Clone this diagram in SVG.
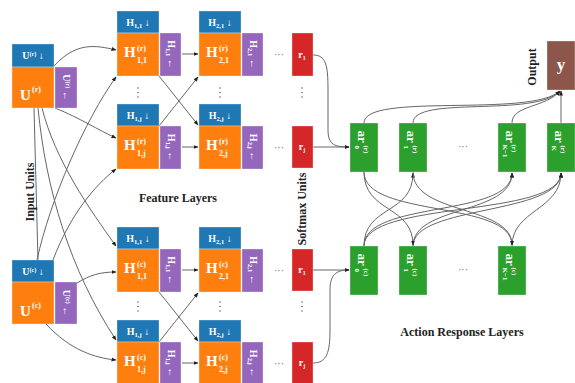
<svg xmlns="http://www.w3.org/2000/svg" width="575" height="383" viewBox="0 0 575 383">
<defs>
<style>
.blu{fill:#1f77b4}.org{fill:#ff7f0e}.pur{fill:#9467bd}.red{fill:#d62728}.grn{fill:#2ca02c}.brn{fill:#8c564b}
rect{stroke:#ffffff;stroke-opacity:0.5;stroke-width:0.6}
.w{fill:#fff;font-family:"Liberation Serif",serif;font-weight:bold}
.lbl{fill:#222;font-family:"Liberation Serif",serif;font-weight:bold;font-size:12px}
.c{fill:none;stroke:#666;stroke-width:1}
.dt{fill:#666;font-family:"Liberation Serif",serif;font-size:10px}
.vd{fill:#666}
</style>
<marker id="a" viewBox="0 0 10 10" refX="9" refY="5" markerWidth="5" markerHeight="5" orient="auto"><path d="M0,1 L10,5 L0,9 z" fill="#222"/></marker>
</defs>
<rect x="0" y="0" width="575" height="383" fill="#fff" stroke="none"/>

<g id="connectors" class="c" marker-end="url(#a)">
<path d="M54,66 C76,42 95,45 116,50"/>
<path d="M55,108 C80,118 98,130 116,138"/>
<path d="M37,260 C50,200 85,120 116,77"/>
<path d="M53,260 C70,215 95,185 116,169"/>
<path d="M42,108 C55,160 90,210 116,246"/>
<path d="M38,108 C46,190 70,270 116,340"/>
<path d="M34,108 L38,260" marker-end="none"/>
<path d="M77,283 C90,275 100,272 116,272"/>
<path d="M46,324 C70,350 95,358 116,360"/>
<path d="M182,54 L198,54"/>
<path d="M159,76 L198,125"/>
<path d="M159,126 L198,77"/>
<path d="M182,147 L198,147"/>
<path d="M182,270 L198,270"/>
<path d="M159,292 L198,341"/>
<path d="M159,342 L198,293"/>
<path d="M182,363 L198,363"/>
<path d="M313,55 C326,55 328,65 328,90 L328,130 C328,145 335,147 349,147"/>
<path d="M313,147 L349,147"/>
<path d="M313,270 L349,270"/>
<path d="M313,363 C327,363 330,352 330,330 L330,290 C330,275 336,270 349,270"/>
<path d="M364,123 C364,92 530,118 560,91"/>
<path d="M413,123 C413,95 535,118 560,91"/>
<path d="M512,123 C512,105 545,108 560,91"/>
<path d="M561,123 L561,91"/>
<path d="M364,246 C364,205 413,215 413,173"/>
<path d="M364,246 C364,200 512,218 512,173"/>
<path d="M364,246 C364,200 561,218 561,173"/>
<path d="M413,246 C413,205 512,215 512,173"/>
<path d="M413,246 C413,205 561,215 561,173"/>
<path d="M512,246 C512,210 561,210 561,173"/>
<path d="M364,172 C364,213 413,205 413,245"/>
<path d="M364,172 C364,218 512,200 512,245"/>
<path d="M413,172 C413,215 512,205 512,245"/>
</g>

<g id="U_r">
<rect class="blu" x="12" y="44" width="42" height="23"/>
<rect class="org" x="12" y="67" width="42" height="41"/>
<rect class="pur" x="55" y="67" width="22" height="41"/>
<text class="w" x="33" y="59" font-size="10" text-anchor="middle">U<tspan font-size="6" dy="-3">(r)</tspan><tspan dy="3"> ↓</tspan></text>
<text class="w" x="20" y="100" font-size="15">U</text>
<text class="w" x="32" y="92" font-size="8">(r)</text>
<text class="w" transform="translate(66,87.5) rotate(90)" x="0" y="3" font-size="10" text-anchor="middle">U<tspan font-size="6" dy="-3">(r)</tspan><tspan dy="3"> ←</tspan></text>
</g>
<g id="U_c">
<rect class="blu" x="12" y="260" width="42" height="22"/>
<rect class="org" x="12" y="282" width="42" height="42"/>
<rect class="pur" x="55" y="282" width="22" height="42"/>
<text class="w" x="33" y="275" font-size="10" text-anchor="middle">U<tspan font-size="6" dy="-3">(c)</tspan><tspan dy="3"> ↓</tspan></text>
<text class="w" x="20" y="316" font-size="15">U</text>
<text class="w" x="32" y="308" font-size="8">(c)</text>
<text class="w" transform="translate(66,303) rotate(90)" x="0" y="3" font-size="10" text-anchor="middle">U<tspan font-size="6" dy="-3">(c)</tspan><tspan dy="3"> ←</tspan></text>
</g>

<g id="H_r_11" transform="translate(117,11)">
<rect class="blu" x="0" y="0" width="42" height="22"/><rect class="org" x="0" y="22" width="42" height="43"/><rect class="pur" x="43" y="22" width="21" height="43"/>
<text class="w" x="21" y="15" font-size="10" text-anchor="middle">H<tspan font-size="6.5" dy="2">1,1</tspan><tspan dy="-2"> ↓</tspan></text>
<text class="w" x="7" y="46" font-size="15">H</text><text class="w" x="20" y="40" font-size="8">(r)</text><text class="w" x="20" y="52" font-size="8">1,1</text>
<text class="w" transform="translate(53.5,43.5) rotate(90)" x="0" y="3" font-size="10" text-anchor="middle">H<tspan font-size="6.5" dy="2">1,1</tspan><tspan dy="-2"> ←</tspan></text>
</g>
<g id="H_r_1j" transform="translate(117,104)">
<rect class="blu" x="0" y="0" width="42" height="22"/><rect class="org" x="0" y="22" width="42" height="43"/><rect class="pur" x="43" y="22" width="21" height="43"/>
<text class="w" x="21" y="15" font-size="10" text-anchor="middle">H<tspan font-size="6.5" dy="2">1,j</tspan><tspan dy="-2"> ↓</tspan></text>
<text class="w" x="7" y="46" font-size="15">H</text><text class="w" x="20" y="40" font-size="8">(r)</text><text class="w" x="20" y="52" font-size="8">1,j</text>
<text class="w" transform="translate(53.5,43.5) rotate(90)" x="0" y="3" font-size="10" text-anchor="middle">H<tspan font-size="6.5" dy="2">1,j</tspan><tspan dy="-2"> ←</tspan></text>
</g>
<g id="H_r_21" transform="translate(199,11)">
<rect class="blu" x="0" y="0" width="42" height="22"/><rect class="org" x="0" y="22" width="42" height="43"/><rect class="pur" x="43" y="22" width="21" height="43"/>
<text class="w" x="21" y="15" font-size="10" text-anchor="middle">H<tspan font-size="6.5" dy="2">2,1</tspan><tspan dy="-2"> ↓</tspan></text>
<text class="w" x="7" y="46" font-size="15">H</text><text class="w" x="20" y="40" font-size="8">(r)</text><text class="w" x="20" y="52" font-size="8">2,1</text>
<text class="w" transform="translate(53.5,43.5) rotate(90)" x="0" y="3" font-size="10" text-anchor="middle">H<tspan font-size="6.5" dy="2">2,1</tspan><tspan dy="-2"> ←</tspan></text>
</g>
<g id="H_r_2j" transform="translate(199,104)">
<rect class="blu" x="0" y="0" width="42" height="22"/><rect class="org" x="0" y="22" width="42" height="43"/><rect class="pur" x="43" y="22" width="21" height="43"/>
<text class="w" x="21" y="15" font-size="10" text-anchor="middle">H<tspan font-size="6.5" dy="2">2,j</tspan><tspan dy="-2"> ↓</tspan></text>
<text class="w" x="7" y="46" font-size="15">H</text><text class="w" x="20" y="40" font-size="8">(r)</text><text class="w" x="20" y="52" font-size="8">2,j</text>
<text class="w" transform="translate(53.5,43.5) rotate(90)" x="0" y="3" font-size="10" text-anchor="middle">H<tspan font-size="6.5" dy="2">2,j</tspan><tspan dy="-2"> ←</tspan></text>
</g>
<g id="H_c_11" transform="translate(117,227)">
<rect class="blu" x="0" y="0" width="42" height="22"/><rect class="org" x="0" y="22" width="42" height="43"/><rect class="pur" x="43" y="22" width="21" height="43"/>
<text class="w" x="21" y="15" font-size="10" text-anchor="middle">H<tspan font-size="6.5" dy="2">1,1</tspan><tspan dy="-2"> ↓</tspan></text>
<text class="w" x="7" y="46" font-size="15">H</text><text class="w" x="20" y="40" font-size="8">(c)</text><text class="w" x="20" y="52" font-size="8">1,1</text>
<text class="w" transform="translate(53.5,43.5) rotate(90)" x="0" y="3" font-size="10" text-anchor="middle">H<tspan font-size="6.5" dy="2">1,1</tspan><tspan dy="-2"> ←</tspan></text>
</g>
<g id="H_c_1j" transform="translate(117,320)">
<rect class="blu" x="0" y="0" width="42" height="22"/><rect class="org" x="0" y="22" width="42" height="43"/><rect class="pur" x="43" y="22" width="21" height="43"/>
<text class="w" x="21" y="15" font-size="10" text-anchor="middle">H<tspan font-size="6.5" dy="2">1,j</tspan><tspan dy="-2"> ↓</tspan></text>
<text class="w" x="7" y="46" font-size="15">H</text><text class="w" x="20" y="40" font-size="8">(c)</text><text class="w" x="20" y="52" font-size="8">1,j</text>
<text class="w" transform="translate(53.5,43.5) rotate(90)" x="0" y="3" font-size="10" text-anchor="middle">H<tspan font-size="6.5" dy="2">1,j</tspan><tspan dy="-2"> ←</tspan></text>
</g>
<g id="H_c_21" transform="translate(199,227)">
<rect class="blu" x="0" y="0" width="42" height="22"/><rect class="org" x="0" y="22" width="42" height="43"/><rect class="pur" x="43" y="22" width="21" height="43"/>
<text class="w" x="21" y="15" font-size="10" text-anchor="middle">H<tspan font-size="6.5" dy="2">2,1</tspan><tspan dy="-2"> ↓</tspan></text>
<text class="w" x="7" y="46" font-size="15">H</text><text class="w" x="20" y="40" font-size="8">(c)</text><text class="w" x="20" y="52" font-size="8">2,1</text>
<text class="w" transform="translate(53.5,43.5) rotate(90)" x="0" y="3" font-size="10" text-anchor="middle">H<tspan font-size="6.5" dy="2">2,1</tspan><tspan dy="-2"> ←</tspan></text>
</g>
<g id="H_c_2j" transform="translate(199,320)">
<rect class="blu" x="0" y="0" width="42" height="22"/><rect class="org" x="0" y="22" width="42" height="43"/><rect class="pur" x="43" y="22" width="21" height="43"/>
<text class="w" x="21" y="15" font-size="10" text-anchor="middle">H<tspan font-size="6.5" dy="2">2,j</tspan><tspan dy="-2"> ↓</tspan></text>
<text class="w" x="7" y="46" font-size="15">H</text><text class="w" x="20" y="40" font-size="8">(c)</text><text class="w" x="20" y="52" font-size="8">2,j</text>
<text class="w" transform="translate(53.5,43.5) rotate(90)" x="0" y="3" font-size="10" text-anchor="middle">H<tspan font-size="6.5" dy="2">2,j</tspan><tspan dy="-2"> ←</tspan></text>
</g>

<g id="softmax">
<g id="r_r_1"><rect class="red" x="292" y="33" width="21" height="43"/><text class="w" x="302" y="58" font-size="10" text-anchor="middle">r<tspan font-size="6" dy="2">1</tspan></text></g>
<g id="r_r_j"><rect class="red" x="292" y="126" width="21" height="42"/><text class="w" x="302" y="150" font-size="10" text-anchor="middle">r<tspan font-size="6" dy="2">j</tspan></text></g>
<g id="r_c_1"><rect class="red" x="292" y="249" width="21" height="42"/><text class="w" x="302" y="273" font-size="10" text-anchor="middle">r<tspan font-size="6" dy="2">1</tspan></text></g>
<g id="r_c_j"><rect class="red" x="292" y="342" width="21" height="42"/><text class="w" x="302" y="366" font-size="10" text-anchor="middle">r<tspan font-size="6" dy="2">j</tspan></text></g>
</g>

<g id="dots">
<text class="dt" x="279" y="58" text-anchor="middle">···</text>
<text class="dt" x="279" y="151" text-anchor="middle">···</text>
<text class="dt" x="279" y="274" text-anchor="middle">···</text>
<text class="dt" x="279" y="367" text-anchor="middle">···</text>
<text class="dt" x="463" y="150" text-anchor="middle">···</text>
<text class="dt" x="463" y="273" text-anchor="middle">···</text>
<g class="vd">
<circle cx="138" cy="88" r="0.8"/><circle cx="138" cy="92.5" r="0.8"/><circle cx="138" cy="97" r="0.8"/>
<circle cx="220" cy="88" r="0.8"/><circle cx="220" cy="92.5" r="0.8"/><circle cx="220" cy="97" r="0.8"/>
<circle cx="302" cy="88" r="0.8"/><circle cx="302" cy="92.5" r="0.8"/><circle cx="302" cy="97" r="0.8"/>
<circle cx="138" cy="302" r="0.8"/><circle cx="138" cy="306.5" r="0.8"/><circle cx="138" cy="311" r="0.8"/>
<circle cx="220" cy="302" r="0.8"/><circle cx="220" cy="306.5" r="0.8"/><circle cx="220" cy="311" r="0.8"/>
<circle cx="302" cy="302" r="0.8"/><circle cx="302" cy="306.5" r="0.8"/><circle cx="302" cy="311" r="0.8"/>
</g>
</g>

<g id="ar_r_0"><rect class="grn" x="350" y="123" width="28" height="49"/>
<g transform="translate(364,147.5) rotate(90)"><text class="w" x="-17" y="6.5" font-size="13">ar</text><text class="w" x="-2" y="9" font-size="7">0</text><text class="w" x="-2" y="0" font-size="7">(r)</text></g></g>
<g id="ar_r_1"><rect class="grn" x="399" y="123" width="28" height="49"/>
<g transform="translate(413,147.5) rotate(90)"><text class="w" x="-17" y="6.5" font-size="13">ar</text><text class="w" x="-2" y="9" font-size="7">1</text><text class="w" x="-2" y="0" font-size="7">(r)</text></g></g>
<g id="ar_r_K1"><rect class="grn" x="498" y="123" width="28" height="49"/>
<g transform="translate(512,147.5) rotate(90)"><text class="w" x="-17" y="6.5" font-size="13">ar</text><text class="w" x="-3" y="9" font-size="7">K−1</text><text class="w" x="-3" y="0" font-size="7">(r)</text></g></g>
<g id="ar_r_K"><rect class="grn" x="547" y="123" width="28" height="49"/>
<g transform="translate(561,147.5) rotate(90)"><text class="w" x="-17" y="6.5" font-size="13">ar</text><text class="w" x="-2" y="9" font-size="7">K</text><text class="w" x="-2" y="0" font-size="7">(r)</text></g></g>
<g id="ar_c_0"><rect class="grn" x="350" y="246" width="28" height="49"/>
<g transform="translate(364,270.5) rotate(90)"><text class="w" x="-17" y="6.5" font-size="13">ar</text><text class="w" x="-2" y="9" font-size="7">0</text><text class="w" x="-2" y="0" font-size="7">(c)</text></g></g>
<g id="ar_c_1"><rect class="grn" x="399" y="246" width="28" height="49"/>
<g transform="translate(413,270.5) rotate(90)"><text class="w" x="-17" y="6.5" font-size="13">ar</text><text class="w" x="-2" y="9" font-size="7">1</text><text class="w" x="-2" y="0" font-size="7">(c)</text></g></g>
<g id="ar_c_K1"><rect class="grn" x="498" y="246" width="28" height="49"/>
<g transform="translate(512,270.5) rotate(90)"><text class="w" x="-17" y="6.5" font-size="13">ar</text><text class="w" x="-3" y="9" font-size="7">K−1</text><text class="w" x="-3" y="0" font-size="7">(c)</text></g></g>

<g id="output"><rect class="brn" x="547" y="41" width="28" height="49"/><text class="w" x="561" y="70" font-size="17" text-anchor="middle">y</text></g>

<g id="labels">
<text class="lbl" transform="translate(34,192) rotate(-90)" text-anchor="middle">Input Units</text>
<text class="lbl" x="178" y="202" text-anchor="middle">Feature Layers</text>
<text class="lbl" transform="translate(306,209) rotate(-90)" text-anchor="middle">Softmax Units</text>
<text class="lbl" transform="translate(536,67) rotate(-90)" text-anchor="middle">Output</text>
<text class="lbl" x="462" y="336" text-anchor="middle">Action Response Layers</text>
</g>
</svg>
